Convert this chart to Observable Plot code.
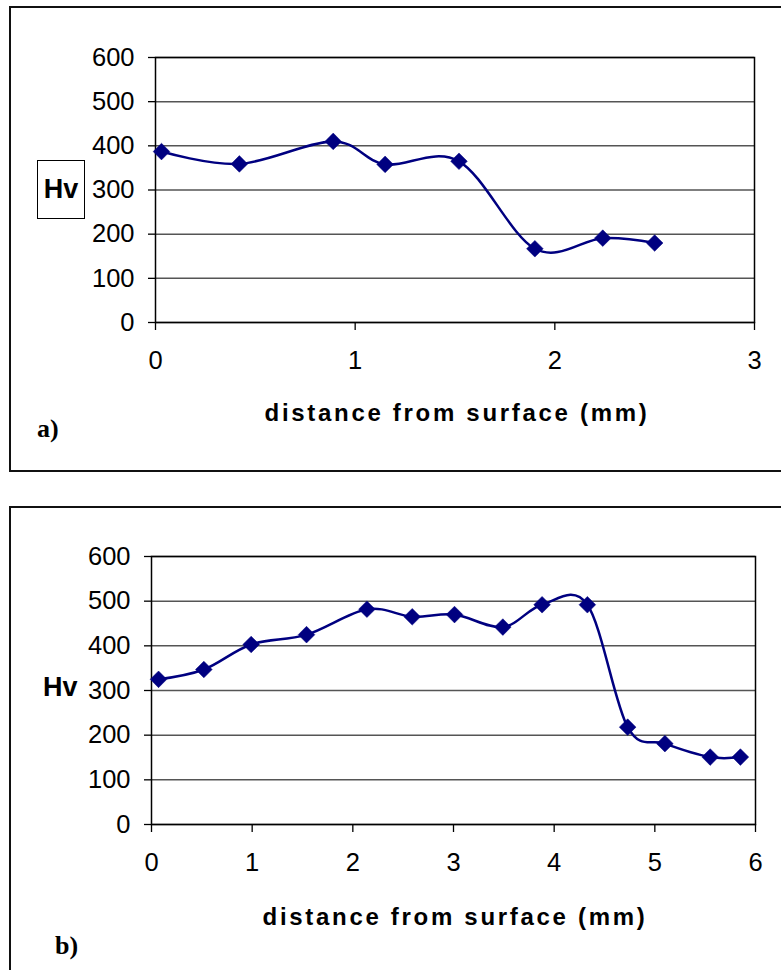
<!DOCTYPE html>
<html>
<head>
<meta charset="utf-8">
<script src="https://cdn.jsdelivr.net/npm/d3@7"></script>
<script src="https://cdn.jsdelivr.net/npm/@observablehq/plot@0.6"></script>
<style>
  html, body { margin: 0; padding: 0; background: white; }
  body { width: 781px; height: 970px; position: relative; overflow: hidden; font-family: "Liberation Sans", Arial, sans-serif; }
  .box { position: absolute; border: 2px solid #111; box-sizing: border-box; }
  .abs { position: absolute; white-space: nowrap; }
  .xlabel { font-weight: bold; font-size: 24px; letter-spacing: 2.7px; text-align: center; line-height: 1; }
  .hv { font-weight: bold; font-size: 27px; line-height: 1; }
  .tag { font-family: "Liberation Serif", "Times New Roman", serif; font-weight: bold; font-size: 26px; line-height: 1; }
  svg { position: absolute; left: 0; }
  svg text { font-size: 25.5px; }
</style>
</head>
<body>
<script>
// ---- data ----
const distA = [0.03, 0.42, 0.89, 1.15, 1.52, 1.90, 2.24, 2.50];
const hvA   = [387, 359, 410, 358, 365, 167, 191, 180];
const distB = [0.07, 0.52, 0.99, 1.54, 2.14, 2.59, 3.01, 3.49, 3.88, 4.33, 4.73, 5.10, 5.55, 5.85];
const hvB   = [325, 347, 403, 425, 482, 465, 470, 442, 492, 492, 218, 181, 151, 151];
const yTicks = [0, 100, 200, 300, 400, 500, 600];
const xTicksA = [0, 1, 2, 3];
const xTicksB = [0, 1, 2, 3, 4, 5, 6];
const xLabel = "distance from surface (mm)";
const yLabel = "Hv";
const tagA = "a)";
const tagB = "b)";

const navy = "#000080";

function panel({dist, hv, xTicks, xMax, top, height, left, right, plotTop, plotBottom}) {
  const data = dist.map((d, i) => ({d, h: hv[i]}));
  const svg = Plot.plot({
    width: 781,
    height,
    marginLeft: left,
    marginRight: 781 - right,
    marginTop: plotTop - top,
    marginBottom: top + height - plotBottom,
    style: {background: "transparent", fontFamily: "'Liberation Sans', Arial, sans-serif", fontSize: "26px", color: "#000", overflow: "visible"},
    x: {domain: [0, xMax], label: null},
    y: {domain: [0, 600], label: null},
    marks: [
      Plot.gridY(yTicks, {stroke: "#555", strokeOpacity: 1, strokeWidth: 1.5}),
      Plot.frame({stroke: "#000", strokeWidth: 1.5}),
      Plot.axisX({ticks: xTicks, tickSize: 8, tickPadding: 20, stroke: "#000", strokeWidth: 1.3, tickFormat: d3.format("d"), fontSize: 26}),
      Plot.axisY({ticks: yTicks, tickSize: 7, tickPadding: 14, stroke: "#000", strokeWidth: 1.3, tickFormat: d3.format("d"), fontSize: 26}),
      Plot.line(data, {x: "d", y: "h", curve: "cardinal", stroke: navy, strokeWidth: 2.5}),
      Plot.dot(data, {x: "d", y: "h", symbol: "diamond2", r: 7.5, fill: navy, stroke: navy, strokeWidth: 0.5})
    ]
  });
  svg.style.top = top + "px";
  document.body.appendChild(svg);
}

function addDiv(cls, text, css) {
  const el = document.createElement("div");
  el.className = cls;
  if (text != null) el.textContent = text;
  Object.assign(el.style, css);
  document.body.appendChild(el);
  return el;
}

// boxes
addDiv("box", null, {left: "9px", top: "6px", width: "800px", height: "466px"});
addDiv("box", null, {left: "9px", top: "506px", width: "800px", height: "500px"});

// panel a
panel({dist: distA, hv: hvA, xTicks: xTicksA, xMax: 3, top: 10, height: 450, left: 155, right: 754, plotTop: 57, plotBottom: 322});
// panel b
panel({dist: distB, hv: hvB, xTicks: xTicksB, xMax: 6, top: 510, height: 440, left: 151, right: 755, plotTop: 556, plotBottom: 824});

// labels a
addDiv("abs xlabel", xLabel, {left: "157px", width: "600px", top: "401px"});
addDiv("abs hv", yLabel, {left: "37px", top: "160px", width: "48px", height: "59px", border: "1px solid #000", boxSizing: "border-box", display: "flex", alignItems: "center", justifyContent: "center"});
addDiv("abs tag", tagA, {left: "37px", top: "416px"});
// labels b
addDiv("abs xlabel", xLabel, {left: "153px", width: "604px", top: "905px"});
addDiv("abs hv", yLabel, {left: "43px", top: "674px"});
addDiv("abs tag", tagB, {left: "55px", top: "933px"});
</script>
</body>
</html>
